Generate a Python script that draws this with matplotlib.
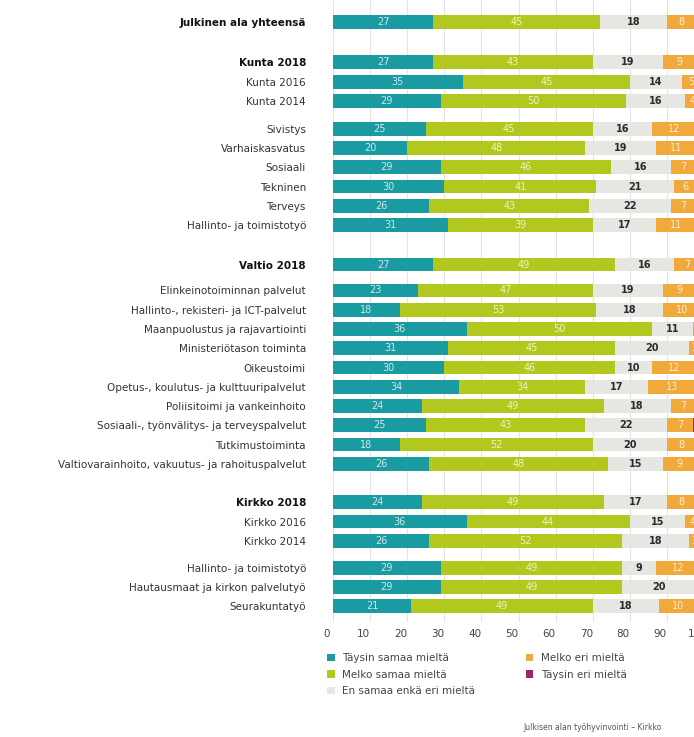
import matplotlib
matplotlib.use("Agg")
import matplotlib.pyplot as plt
import matplotlib.transforms as mtransforms
from matplotlib.patches import Patch
import numpy as np

categories = [
    "Julkinen ala yhteensä",
    "Kunta 2018", "Kunta 2016", "Kunta 2014",
    "Sivistys", "Varhaiskasvatus", "Sosiaali", "Tekninen", "Terveys",
    "Hallinto- ja toimistotyö",
    "Valtio 2018",
    "Elinkeinotoiminnan palvelut",
    "Hallinto-, rekisteri- ja ICT-palvelut",
    "Maanpuolustus ja rajavartiointi",
    "Ministeriötason toiminta",
    "Oikeustoimi",
    "Opetus-, koulutus- ja kulttuuripalvelut",
    "Poliisitoimi ja vankeinhoito",
    "Sosiaali-, työnvälitys- ja terveyspalvelut",
    "Tutkimustoiminta",
    "Valtiovarainhoito, vakuutus- ja rahoituspalvelut",
    "Kirkko 2018", "Kirkko 2016", "Kirkko 2014",
    "Hallinto- ja toimistotyö",
    "Hautausmaat ja kirkon palvelutyö",
    "Seurakuntatyö",
]
bold_categories = ["Julkinen ala yhteensä", "Kunta 2018", "Valtio 2018", "Kirkko 2018"]

taysin_samaa = [27, 27, 35, 29, 25, 20, 29, 30, 26, 31, 27, 23, 18, 36, 31, 30, 34, 24, 25, 18, 26, 24, 36, 26, 29, 29, 21]
melko_samaa  = [45, 43, 45, 50, 45, 48, 46, 41, 43, 39, 49, 47, 53, 50, 45, 46, 34, 49, 43, 52, 48, 49, 44, 52, 49, 49, 49]
ei_samaa_eika_eri = [18, 19, 14, 16, 16, 19, 16, 21, 22, 17, 16, 19, 18, 11, 20, 10, 17, 18, 22, 20, 15, 17, 15, 18, 9, 20, 18]
melko_eri    = [8, 9, 5, 4, 12, 11, 7, 6, 7, 11, 7, 9, 10, 2, 3, 12, 13, 7, 7, 8, 9, 8, 4, 3, 12, 2, 10]
taysin_eri   = [2, 2, 1, 1, 2, 2, 2, 2, 2, 2, 1, 2, 1, 1, 1, 2, 2, 2, 3, 2, 2, 2, 1, 1, 1, 0, 2]

series_names = ["Täysin samaa mieltä", "Melko samaa mieltä", "En samaa enkä eri mieltä",
                "Melko eri mieltä", "Täysin eri mieltä"]
xticks = [0, 10, 20, 30, 40, 50, 60, 70, 80, 90, 100]
footer = "Julkisen alan työhyvinvointi – Kirkko"

# styling / layout
colors = ["#1a9ba1", "#b3c81e", "#e6e6e2", "#f0a93a", "#a3216f"]
label_colors = ["#cfe8e8", "#eef3c0", "#2b2b2b", "#fbeedb", "#ffffff"]
label_weights = ["normal", "normal", "bold", "normal", "normal"]
gap_before = [0, 1.1, 0, 0, 0.45, 0, 0, 0, 0, 0, 1.05, 0.35] + [0] * 9 + [1.0, 0, 0, 0.4, 0, 0]

pos = []
p = 0.0
for i, g in enumerate(gap_before):
    p = 0.0 if i == 0 else p + 1 + g
    pos.append(p)
pos = np.array(pos)

W, H = 694, 737
fig = plt.figure(figsize=(W / 100, H / 100), dpi=100)
ax = fig.add_axes([333 / W, (H - 622) / H, 371 / W, 622 / H])

series = [taysin_samaa, melko_samaa, ei_samaa_eika_eri, melko_eri, taysin_eri]
left = np.zeros(len(categories))
for vals, col, lc, lw in zip(series, colors, label_colors, label_weights):
    vals = np.array(vals, dtype=float)
    bars = ax.barh(pos, vals, left=left, height=0.72, color=col, zorder=2)
    for b, v, l in zip(bars, vals, left):
        if v >= 2:
            ax.text(l + v / 2, b.get_y() + b.get_height() / 2, f"{int(v)}",
                    ha="center", va="center", fontsize=7, color=lc,
                    fontweight=lw, zorder=3)
    left = left + vals

ax.set_xlim(0, 100)
ax.set_ylim(31.17, -1.14)
ax.set_xticks(xticks)
ax.set_xticklabels([str(t) for t in xticks])
ax.xaxis.grid(True, color="#e3e3e3", linewidth=0.8, zorder=0)
ax.set_axisbelow(True)
ax.tick_params(axis="x", length=0, pad=5, labelsize=7.5, labelcolor="#444444")
offset = mtransforms.ScaledTranslation(-0.065, 0, fig.dpi_scale_trans)
for lab in ax.get_xticklabels():
    lab.set_transform(lab.get_transform() + offset)

ax.set_yticks(pos)
ax.set_yticklabels(categories)
ax.tick_params(axis="y", length=0, pad=19.5, labelsize=7.5)
for lab in ax.get_yticklabels():
    if lab.get_text() in bold_categories:
        lab.set_fontweight("bold")
        lab.set_color("#111111")
    else:
        lab.set_color("#333333")
for s in ax.spines.values():
    s.set_visible(False)

handles = [Patch(facecolor=c, edgecolor="none") for c in colors]
fig.legend(handles, series_names, loc="upper left",
           bbox_to_anchor=(318 / W, (H - 644) / H), ncol=2, frameon=False,
           fontsize=7.5, handlelength=0.7, handleheight=0.7, handletextpad=0.7,
           labelspacing=0.6, columnspacing=4.9, labelcolor="#444444")

fig.text(523 / W, (H - 728) / H, footer, fontsize=5.5, color="#555555",
         ha="left", va="center")

fig.savefig("out.png", dpi=100)
